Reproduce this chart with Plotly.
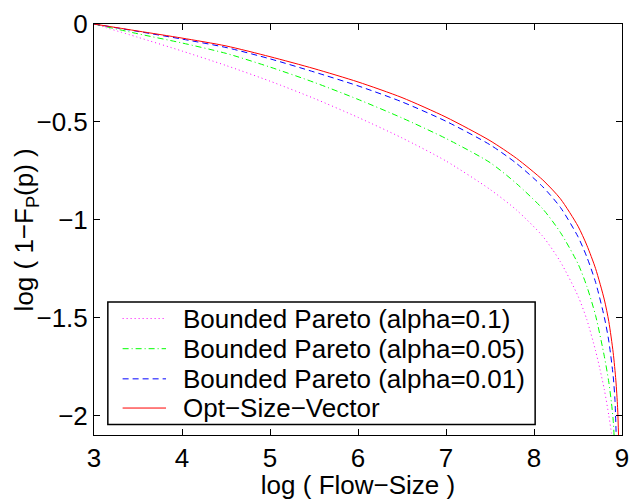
import plotly.graph_objects as go

# log(Flow-Size) vs log(1 - F_P(p)) for each flow-size model
x_bp01 = [3.0, 3.5, 4.0, 4.5, 5.0, 5.5, 6.0, 6.5, 7.0, 7.5, 7.8, 8.1, 8.3, 8.5,
          8.6, 8.7, 8.75, 8.8, 8.85, 8.88, 8.89]
y_bp01 = [0.0, -0.068, -0.138, -0.212, -0.292, -0.380, -0.477, -0.582, -0.700, -0.845,
          -0.950, -1.085, -1.215, -1.390, -1.510, -1.670, -1.765, -1.870, -2.000, -2.090, -2.130]

x_bp005 = [3.0, 3.5, 4.0, 4.5, 5.0, 5.5, 6.0, 6.5, 7.0, 7.5, 7.8, 8.1, 8.3, 8.5,
           8.6, 8.7, 8.8, 8.85, 8.88, 8.9, 8.912]
y_bp005 = [0.0, -0.050, -0.097, -0.150, -0.220, -0.298, -0.385, -0.480, -0.585, -0.708,
           -0.815, -0.945, -1.065, -1.225, -1.340, -1.490, -1.700, -1.830, -1.935, -2.025, -2.120]

x_bp001 = [3.0, 3.5, 4.0, 4.5, 5.0, 5.5, 6.0, 6.5, 7.0, 7.5, 7.8, 8.1, 8.3, 8.5,
           8.6, 8.7, 8.8, 8.85, 8.9, 8.92, 8.935]
y_bp001 = [0.0, -0.038, -0.077, -0.120, -0.178, -0.245, -0.316, -0.398, -0.497, -0.617,
           -0.712, -0.832, -0.937, -1.087, -1.190, -1.320, -1.500, -1.620, -1.800, -1.920, -2.120]

x_opt = [3.0, 3.5, 4.0, 4.5, 5.0, 5.5, 6.0, 6.5, 7.0, 7.5, 7.8, 8.1, 8.3, 8.5,
         8.6, 8.7, 8.8, 8.85, 8.9, 8.93, 8.95, 8.962]
y_opt = [0.0, -0.036, -0.072, -0.112, -0.167, -0.228, -0.296, -0.376, -0.476, -0.596,
         -0.686, -0.797, -0.893, -1.033, -1.130, -1.250, -1.410, -1.520, -1.680, -1.820,
         -1.960, -2.120]

names = ["Bounded Pareto (alpha=0.1)", "Bounded Pareto (alpha=0.05)",
         "Bounded Pareto (alpha=0.01)", "Opt\u2212Size\u2212Vector"]
xs_all = [x_bp01, x_bp005, x_bp001, x_opt]
ys_all = [y_bp01, y_bp005, y_bp001, y_opt]
colors = ["#ff00ff", "#00ff00", "#0000ff", "#ff0000"]
dashes = ["1px,3px", "6px,3px,1px,3px", "6px,4px", "solid"]

x_ticks = [3, 4, 5, 6, 7, 8, 9]
y_ticks = [0, -0.5, -1, -1.5, -2]
y_tick_text = ["0", "\u22120.5", "\u22121", "\u22121.5", "\u22122"]

FONT = "Liberation Sans, Arial, Helvetica, sans-serif"
FS = 26

fig = go.Figure()
for name, xs, ys, color, dash in zip(names, xs_all, ys_all, colors, dashes):
    fig.add_trace(go.Scatter(
        x=xs, y=ys, name=name, mode="lines", showlegend=False,
        line=dict(color=color, width=1, dash=dash, shape="spline", smoothing=0.7),
    ))

# Boxed legend in the lower-left corner of the axes (paper coordinates)
box_x0, box_x1, box_y0, box_y1 = 0.0262, 0.8355, 0.0253, 0.3238
row_y = [0.2834, 0.2100, 0.1366, 0.0656]
sample_x0, sample_x1, text_x = 0.0542, 0.1364, 0.1645

shapes = [dict(type="rect", xref="paper", yref="paper",
               x0=box_x0, x1=box_x1, y0=box_y0, y1=box_y1,
               line=dict(color="black", width=1.5), fillcolor="white", layer="above")]
annotations = []
for name, color, dash, ry in zip(names, colors, dashes, row_y):
    shapes.append(dict(type="line", xref="paper", yref="paper",
                       x0=sample_x0, x1=sample_x1, y0=ry, y1=ry, layer="above",
                       line=dict(color=color, width=1, dash=dash)))
    annotations.append(dict(text=name, xref="paper", yref="paper", x=text_x, y=ry,
                            xanchor="left", yanchor="middle", showarrow=False,
                            font=dict(family=FONT, size=FS, color="black")))

# Y-axis title placed beside the tick labels
annotations.append(dict(text="log ( 1\u2212F<sub>P</sub>(p) )", xref="paper", yref="paper",
                        x=-0.129, y=0.5, xanchor="center", yanchor="middle",
                        textangle=-90, showarrow=False,
                        font=dict(family=FONT, size=FS, color="black")))

axis_common = dict(
    showgrid=False, zeroline=False, showline=True, linecolor="black", linewidth=1,
    mirror="ticks", ticks="inside", ticklen=6, tickcolor="black", tickwidth=1,
    tickfont=dict(family=FONT, size=FS, color="black"),
)

fig.update_layout(
    width=638, height=500,
    margin=dict(l=94, r=9, t=19, b=58),
    paper_bgcolor="white", plot_bgcolor="white",
    font=dict(family=FONT, size=FS, color="black"),
    xaxis=dict(range=[3, 9], tickvals=x_ticks,
               title=dict(text="log ( Flow\u2212Size )", standoff=0,
                          font=dict(family=FONT, size=FS)),
               **axis_common),
    yaxis=dict(range=[-2.1, 0], tickvals=y_ticks, ticktext=y_tick_text,
               **axis_common),
    showlegend=False,
    shapes=shapes,
    annotations=annotations,
)

fig.write_html("out.html")
